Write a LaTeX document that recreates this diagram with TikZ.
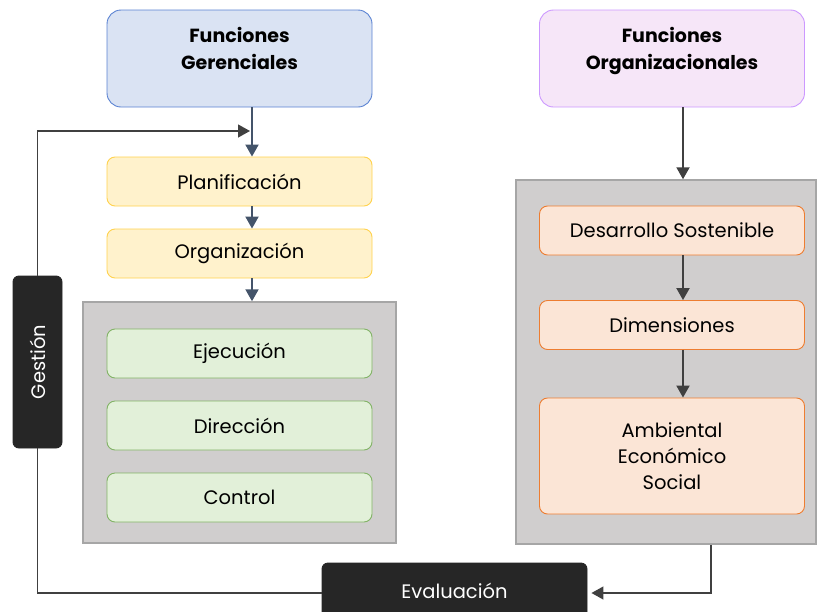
\documentclass[tikz,border=0pt]{standalone}
\usepackage{fontspec}
\setmainfont{Poppins}
\usetikzlibrary{arrows.meta}
\definecolor{azul}{HTML}{DAE3F3}
\definecolor{azulb}{HTML}{5A82D2}
\definecolor{lila}{HTML}{F6E6F8}
\definecolor{lilab}{HTML}{CC99FF}
\definecolor{amar}{HTML}{FFF2CC}
\definecolor{amarb}{HTML}{FFD24D}
\definecolor{verde}{HTML}{E2F0D9}
\definecolor{verdeb}{HTML}{82B366}
\definecolor{nar}{HTML}{FBE5D6}
\definecolor{narb}{HTML}{ED7D31}
\definecolor{gris}{HTML}{D0CECE}
\definecolor{grisb}{HTML}{A6A6A6}
\definecolor{oscuro}{HTML}{262626}
\definecolor{flechaz}{HTML}{44546A}
\definecolor{flechag}{HTML}{404040}
\begin{document}
\begin{tikzpicture}[x=1pt,y=-1pt]
        \tikzstyle{every node}=[draw,line width=0.9pt,align=center,inner sep=0pt,rounded corners=8pt,font=\fontsize{19.5}{26}\selectfont];
        \tikzstyle{titulo}=[minimum width=265pt,minimum height=97pt,rounded corners=14pt,text depth=20pt,font=\fontsize{19}{27}\selectfont\bfseries];
        \tikzstyle{caja}=[minimum width=265pt,minimum height=49pt];
        \tikzstyle{fondo}=[fill=gris,draw=grisb,line width=1.5pt,rounded corners=0pt];
        \tikzstyle{negro}=[fill=oscuro,draw=oscuro,text=white,rounded corners=6pt];
        \tikzstyle{fz}=[draw=flechaz,line width=2pt,-{Triangle[width=13pt,length=12pt]}];
        \tikzstyle{fg}=[draw=flechag,line width=2pt,-{Triangle[width=13pt,length=12pt]}];
        \clip (0,0) rectangle (817,611);
        %\node (name) at (x,y) [style] {text};
        \node (gl) at (239.5,422.5) [fondo,minimum width=313pt,minimum height=241pt] {};
        \node (gr) at (666,362) [fondo,minimum width=300pt,minimum height=364pt] {};
        \node (fger) at (239.5,58.5) [titulo,fill=azul,draw=azulb] {Funciones\\Gerenciales};
        \node (forg) at (672,58.5) [titulo,fill=lila,draw=lilab] {Funciones\\Organizacionales};
        \node (plan) at (239.5,181.5) [caja,fill=amar,draw=amarb] {Planificación};
        \node (org) at (239.5,253.5) [caja,fill=amar,draw=amarb] {Organización};
        \node (eje) at (239.5,353.5) [caja,fill=verde,draw=verdeb] {Ejecución};
        \node (dir) at (239.5,425.5) [caja,fill=verde,draw=verdeb] {Dirección};
        \node (con) at (239.5,497.5) [caja,fill=verde,draw=verdeb] {Control};
        \node (des) at (672,230.5) [caja,fill=nar,draw=narb] {Desarrollo Sostenible};
        \node (dim) at (672,325) [caja,fill=nar,draw=narb] {Dimensiones};
        \node (amb) at (672,456) [caja,minimum height=116pt,fill=nar,draw=narb] {Ambiental\\Económico\\Social};
        \node (ges) at (37.5,362) [negro,rotate=90,minimum width=172pt,minimum height=49pt] {Gestión};
        \node (eva) at (454.5,591) [negro,minimum width=265pt,minimum height=56pt] {Evaluación};
        \coordinate (m) at (250,131);
        %\draw [option] ...
        \draw[fz] ([xshift=12.5pt]fger.south) -- ([xshift=12.5pt]plan.north);
        \draw[fz] ([xshift=12.5pt]plan.south) -- ([xshift=12.5pt]org.north);
        \draw[fz] ([xshift=12.5pt]org.south) -- ([xshift=12.5pt]gl.north);
        \draw[fg] ([xshift=11pt]forg.south) -- ([xshift=17pt]gr.north);
        \draw[fg] ([xshift=11pt]des.south) -- ([xshift=11pt]dim.north);
        \draw[fg] ([xshift=11pt]dim.south) -- ([xshift=11pt]amb.north);
        \draw[fg,line width=1.3pt] (ges.east) |- (m);
        \draw[flechag,line width=1.3pt] (ges.west) |- ([yshift=-2pt]eva.west);
        \draw[fg,line width=1.3pt] ([xshift=45pt]gr.south) |- ([xshift=4pt,yshift=-2pt]eva.east);
    \end{tikzpicture}
\end{document}
